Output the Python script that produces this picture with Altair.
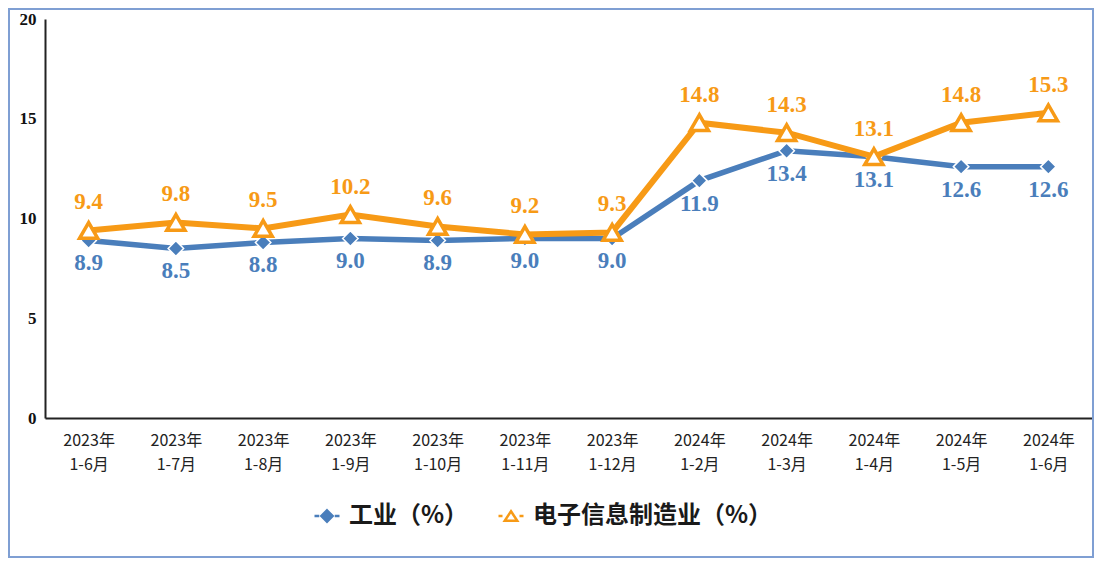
import altair as alt
import pandas as pd

years = ["2023年"] * 7 + ["2024年"] * 5
months = ["1-6月", "1-7月", "1-8月", "1-9月", "1-10月", "1-11月", "1-12月",
          "1-2月", "1-3月", "1-4月", "1-5月", "1-6月"]
industry = [8.9, 8.5, 8.8, 9.0, 8.9, 9.0, 9.0, 11.9, 13.4, 13.1, 12.6, 12.6]
electronic = [9.4, 9.8, 9.5, 10.2, 9.6, 9.2, 9.3, 14.8, 14.3, 13.1, 14.8, 15.3]
series_names = ["工业（%）", "电子信息制造业（%）"]

BLUE = "#4A7EBB"
ORANGE = "#F79A16"

cats = [f"{y}\n{m}" for y, m in zip(years, months)]
rows = []
for c, v in zip(cats, industry):
    rows.append({"cat": c, "value": v, "series": series_names[0]})
for c, v in zip(cats, electronic):
    rows.append({"cat": c, "value": v, "series": series_names[1]})
df = pd.DataFrame(rows)

x_enc = alt.X(
    "cat:N", sort=cats, scale=alt.Scale(padding=0.5),
    axis=alt.Axis(
        title=None, labelAngle=0, ticks=False, domainColor="#222222", domainWidth=2,
        labelExpr="split(datum.label, '\\n')", labelLineHeight=24,
        labelFont="Noto Sans CJK SC", labelFontSize=16, labelColor="#222222",
        labelPadding=14,
    ),
)
y_enc = alt.Y(
    "value:Q", scale=alt.Scale(domain=[0, 20], nice=False, zero=True),
    axis=alt.Axis(
        title=None, values=[0, 5, 10, 15, 20], grid=False, ticks=False,
        domainColor="#222222", domainWidth=2,
        labelFont="Liberation Serif", labelFontWeight="bold", labelFontSize=17,
        labelColor="#111111", labelPadding=9,
    ),
)

base = alt.Chart(df).encode(x=x_enc, y=y_enc)
f_ind = alt.datum.series == series_names[0]
f_ele = alt.datum.series == series_names[1]

line_ind = base.transform_filter(f_ind).mark_line(color=BLUE, strokeWidth=5.5)
pts_ind = base.transform_filter(f_ind).mark_point(
    shape="diamond", size=240, filled=True, fill=BLUE, stroke="white", strokeWidth=1.5, opacity=1
)
line_ele = base.transform_filter(f_ele).mark_line(color=ORANGE, strokeWidth=6)
pts_ele = base.transform_filter(f_ele).mark_point(
    shape="triangle-up", size=330, fill="white", stroke=ORANGE, strokeWidth=3.5, opacity=1
)
lab_ind = base.transform_filter(f_ind).mark_text(
    dy=23, font="Liberation Serif", fontWeight="bold", fontSize=23, color=BLUE
).encode(text=alt.Text("value:Q", format=".1f"))
lab_ele = base.transform_filter(f_ele).mark_text(
    dy=-28, font="Liberation Serif", fontWeight="bold", fontSize=23, color=ORANGE
).encode(text=alt.Text("value:Q", format=".1f"))

diamond_sym = "M-1,0L-0.62,0M0.62,0L1,0M0,-0.45L0.45,0L0,0.45L-0.45,0Z"
triangle_sym = "M-1,0L-0.68,0M0.68,0L1,0M0,-0.38L0.5,0.38L-0.5,0.38Z"

legend_layer = base.mark_point(opacity=0, strokeWidth=2.5).encode(
    shape=alt.Shape("series:N", scale=alt.Scale(domain=series_names, range=[diamond_sym, triangle_sym]),
                    legend=alt.Legend(
                        title=None, orient="none", legendX=268, legendY=483, direction="horizontal",
                        symbolSize=625, symbolStrokeWidth=2.5, symbolOpacity=1,
                        labelFont="Noto Sans CJK SC", labelFontSize=24, labelFontWeight="bold",
                        labelColor="#1a1a1a", labelOffset=8, columnPadding=24, labelLimit=1000,
                    )),
    fill=alt.Fill("series:N", scale=alt.Scale(domain=series_names, range=[BLUE, "white"])),
    stroke=alt.Stroke("series:N", scale=alt.Scale(domain=series_names, range=[BLUE, ORANGE])),
)

border = alt.Chart(pd.DataFrame({"k": [0]})).mark_rect(
    fill="transparent", stroke="#7F9FD3", strokeWidth=2
).encode(x=alt.value(-36), x2=alt.value(1048), y=alt.value(-10), y2=alt.value(538))

chart = alt.layer(
    line_ind, pts_ind, line_ele, pts_ele, lab_ind, lab_ele, legend_layer, border
).properties(
    width=1047, height=399,
    background="white",
    autosize=alt.AutoSizeParams(type="none"),
    padding={"left": 37, "top": 11, "right": 2, "bottom": 140},
).configure_view(stroke="transparent", strokeWidth=0)

chart.save("out.html", embed_options={"renderer": "svg", "actions": False})
